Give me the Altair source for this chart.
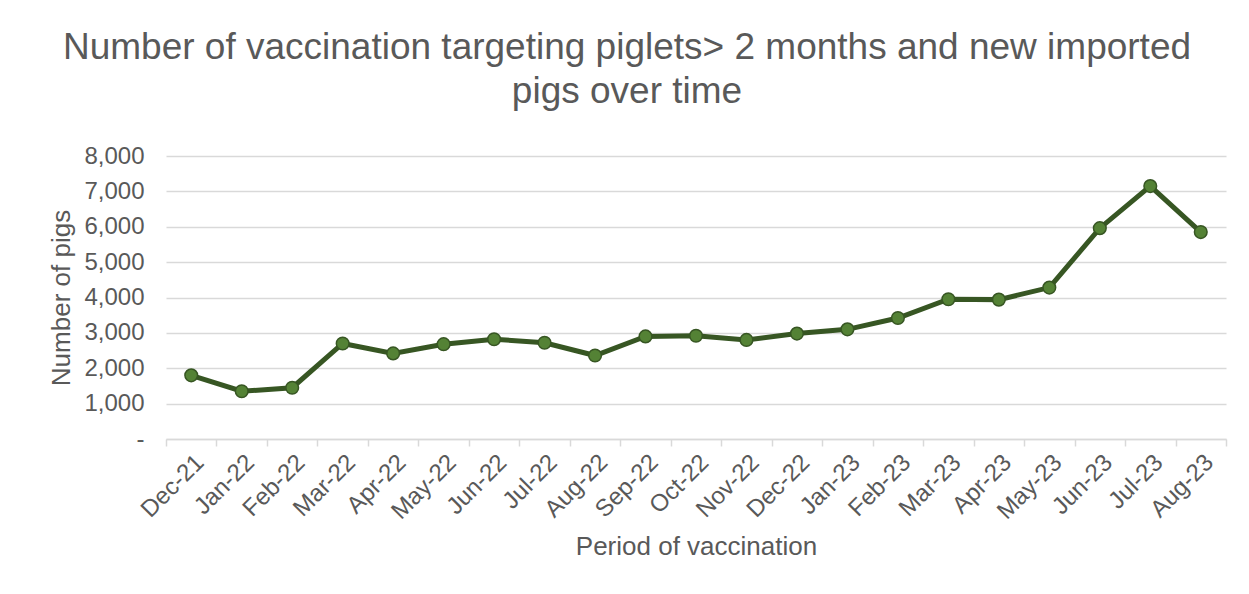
import altair as alt
import pandas as pd

months = ["Dec-21", "Jan-22", "Feb-22", "Mar-22", "Apr-22", "May-22", "Jun-22",
          "Jul-22", "Aug-22", "Sep-22", "Oct-22", "Nov-22", "Dec-22", "Jan-23",
          "Feb-23", "Mar-23", "Apr-23", "May-23", "Jun-23", "Jul-23", "Aug-23"]
pigs = [1800, 1350, 1450, 2700, 2420, 2680, 2820, 2720, 2360, 2900, 2920,
        2800, 2980, 3100, 3420, 3950, 3940, 4280, 5960, 7150, 5850]

df = pd.DataFrame({"month": months, "pigs": pigs})

FONT = "Liberation Sans"
GREY = "#595959"

chart = alt.Chart(df).mark_line(
    color="#375623", strokeWidth=5,
    point=alt.OverlayMarkDef(filled=True, fill="#548235", stroke="#375623",
                             strokeWidth=1.5, size=160, opacity=1)
).encode(
    x=alt.X("month:N", sort=months, bandPosition=0.5,
            scale=alt.Scale(type="band", paddingInner=0, paddingOuter=0),
            axis=alt.Axis(title="Period of vaccination", labelAngle=-45,
                          tickBand="extent", tickSize=7, tickColor="#d9d9d9",
                          domainColor="#d9d9d9", domainWidth=1.5, tickWidth=1.5,
                          labelPadding=4, titlePadding=10, grid=False,
                          labelFontSize=24, titleFontSize=26)),
    y=alt.Y("pigs:Q", scale=alt.Scale(domain=[0, 8000]),
            axis=alt.Axis(title="Number of pigs", values=list(range(0, 8001, 1000)),
                          labelExpr="datum.value == 0 ? '-' : format(datum.value, ',')",
                          ticks=False, domain=False, labelPadding=22,
                          titlePadding=9, gridColor="#d9d9d9", gridWidth=1.5,
                          labelFontSize=24, titleFontSize=26)),
).properties(
    width=1060, height=283,
    title=alt.TitleParams(
        ["Number of vaccination targeting piglets> 2 months and new imported",
         "pigs over time"],
        anchor="middle", frame="group", dx=-69, fontSize=37, lineHeight=44,
        fontWeight="normal", color=GREY, font=FONT, offset=33),
    padding={"left": 40, "top": 21, "right": 10, "bottom": 5},
).configure(font=FONT).configure_axis(
    labelColor=GREY, titleColor=GREY, labelFont=FONT, titleFont=FONT,
    titleFontWeight="normal"
).configure_view(stroke=None)

chart.save("out.html", embed_options={"renderer": "svg", "actions": False})
